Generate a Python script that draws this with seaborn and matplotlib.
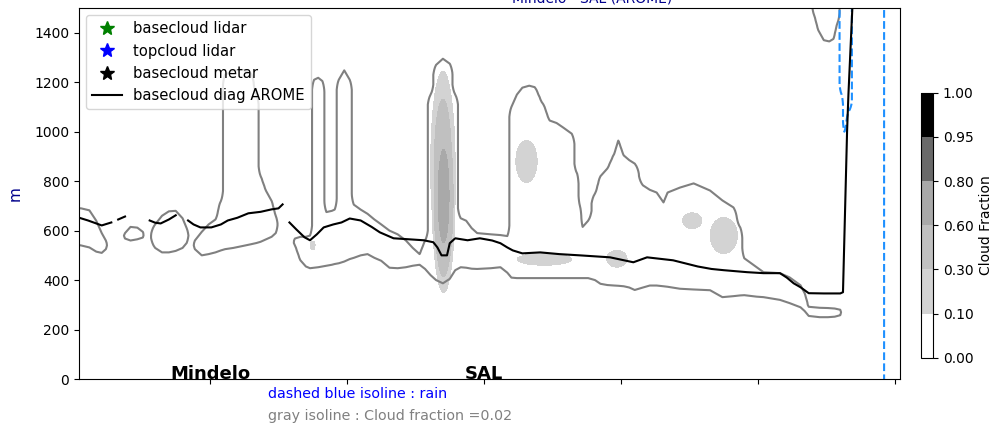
import numpy as np
import matplotlib
matplotlib.use("Agg")
import matplotlib.pyplot as plt
from matplotlib.lines import Line2D
import seaborn as sns

nan = np.nan

# cloud layer where Cloud fraction >= 0.02 : columns along the section (base / top in m)
layer_x = [0, 6, 12, 17, 21, 24, 27, 34, 38, 42, 47, 51, 54, 60, 65, 70, 75, 80, 83, 86,
           89, 94, 99, 104, 108, 111, 117, 124, 130, 134, 137, 141, 145, 148, 151, 158,
           162, 166, 170, 173, 176, 179, 182, 185, 189, 191, 194, 198, 202, 205, 210, 215,
           220, 225, 231, 237, 243, 248, 253, 257, 261, 265, 270, 275, 279, 283, 287, 291,
           295, 305, 312, 317, 320, 324, 328, 333, 337, 343, 348, 353, 358, 364, 368, 370,
           372, 376, 381, 385, 390, 395, 398, 402, 406, 410, 416, 421, 426, 431, 434, 443,
           453, 465, 474, 482, 487, 490, 499, 504, 516, 523, 531, 534, 537, 545, 551, 556,
           560, 563, 610]
layer_base = [545, 540, 532, 515, 510, 525, nan, nan, 568, 560, 565, 572, nan, 530, 512, 512,
              518, 530, 550, nan, 525, 500, 505, 512, 520, 525, 530, 538, 545, 550, 555, 565,
              575, 590, nan, nan, 540, 480, 455, 448, 450, 452, 455, 458, 462, 465, 468, 475,
              485, 490, 500, 505, 490, 478, 450, 448, 452, 458, 462, 445, 420, 400, 387, 405,
              440, 452, 450, 446, 445, 448, 452, 430, 410, 408, 408, 408, 408, 408, 408, 408,
              408, 408, 408, 408, 408, 408, 400, 385, 380, 378, 377, 375, 370, 360, 370, 378,
              378, 375, 373, 365, 362, 359, 331, 335, 338, 339, 333, 331, 320, 307, 290, 275,
              255, 250, 250, 252, 258, nan, nan]
layer_top = [692, 690, 682, 640, 590, 560, nan, nan, 590, 615, 612, 595, nan, 625, 660, 678,
             680, 650, 610, nan, 560, 595, 625, 645, 720, 1230, 1248, 1250, 1235, 1150, 820,
             760, 720, 660, nan, nan, 568, 575, 575, 580, 1210, 1218, 1205, 675, 680, 685,
             1210, 1248, 1210, 705, 685, 668, 645, 625, 600, 585, 560, 530, 505, 560, 1150,
             1270, 1295, 1275, 1150, 650, 640, 610, 590, 585, 582, 578, 1100, 1150, 1178,
             1186, 1180, 1113, 1045, 1035, 1016, 992, 830, 700, 615, 640, 750, 820, 851, 910,
             964, 904, 885, 871, 783, 765, 754, 714, 754, 774, 791, 762, 722, 694, 613, 488,
             452, 432, 428, 411, 379, 347, 292, 288, 287, 285, 280, nan, nan]

# isolated cloud reaching the top of the section (base in m)
upper_x = [538, 541, 544, 548, 552, 555, 558, 561]
upper_base = [nan, 1470, 1410, 1370, 1365, 1375, 1440, nan]

# rain columns (lowest height with rain, m)
rain_x = [558, 561, 563, 566, 571, 588, 596, 610]
rain_base = [nan, 1150, 1000, 1080, nan, nan, -100, -100]

# cloud fraction cores
core_x = [270, 270.5, 331, 344, 397, 452, 475, 175]
core_z = [860, 740, 880, 484, 486, 640, 580, 540]
core_dx = [10, 9, 11, 28, 10.5, 10, 14, 2.5]
core_dz = [430, 420, 120, 34, 48, 45, 103, 25]
core_max = [0.5, 0.75, 0.2, 0.2, 0.2, 0.2, 0.2, 0.2]

# basecloud diag AROME (nan = no cloud base)
arome_x = [4, 11, 21, 28, nan, 33, 38, nan, 56, 60, 64, 70, 75, nan,
           84, 88, 93, 101, 108, 113, 120, 128, 137, 145, 150, 153, nan,
           158, 163, 169, 173, 178, 183, 190, 196, 202, 210, 218, 224, 234, 245, 256, 263,
           266, 269, 273, 275, 279, 288, 297, 306, 312, 317, 321, 328, 341, 355, 370, 392,
           409, 419, 438, 456, 466, 475, 492, 504, 516, 521, 526, 531, 537, 548, 560, 562,
           565, 566, 569]
arome_z = [653, 641, 621, 633, nan, 645, 657, nan, 641, 632, 629, 645, 662, nan,
           641, 625, 613, 613, 625, 641, 652, 670, 676, 686, 690, 706, nan,
           633, 605, 573, 561, 585, 613, 625, 633, 649, 641, 615, 593, 569, 565, 561, 553,
           532, 500, 500, 549, 569, 561, 569, 560, 549, 532, 520, 508, 512, 505, 500, 492,
           472, 492, 480, 455, 445, 440, 432, 428, 428, 410, 387, 371, 347, 346, 346, 351,
           1004, 1154, 1520]

stations = ["Mindelo", "SAL"]
station_x = [100, 300]

levels = [0, 0.1, 0.3, 0.6, 0.8, 0.95, 1.0]
level_colors = ["white", "lightgrey", "silver", "darkgrey", "dimgrey", "black"]


def layer_field(z, base, top):
    # distance (m) to the nearest layer edge, positive inside, clipped to +-40 m
    d = np.minimum(z[:, None] - np.asarray(base, float)[None, :],
                   np.asarray(top, float)[None, :] - z[:, None])
    d = np.clip(np.nan_to_num(d, nan=-40.0), -40, 40)
    return 0.02 + d / 2000.0


fig = plt.figure(figsize=(9.96, 4.25), dpi=100)
ax = fig.add_axes([0.0793, 0.1082, 0.8243, 0.8729])
cax = fig.add_axes([0.9252, 0.1584, 0.0117, 0.6235])

# filled cloud fraction
gx = np.arange(0, 611, 1.0)
gz = np.arange(0, 1605, 5.0)
GX, GZ = np.meshgrid(gx, gz)
frac = np.zeros_like(GX)
for cx, cz, dx, dz, peak in zip(core_x, core_z, core_dx, core_dz, core_max):
    r2 = ((GX - cx) / dx) ** 2 + ((GZ - cz) / dz) ** 2
    frac = np.maximum(frac, peak * (1 - r2))
cf = ax.contourf(gx, gz, frac, levels=levels, colors=level_colors)

# gray isoline 0.02
zl = np.arange(-50, 1610, 10.0)
cloud = layer_field(zl, layer_base, layer_top)
ax.contour(layer_x, zl, cloud, levels=[0.02], colors="gray", linewidths=1.5)
upper = layer_field(zl, upper_base, [5000] * len(upper_x))
ax.contour(upper_x, zl, upper, levels=[0.02], colors="gray", linewidths=1.5)

# rain isoline (dashed blue)
rain = layer_field(zl, rain_base, [5000] * len(rain_x))
ax.contour(rain_x, zl, rain, levels=[0.02], colors="dodgerblue", linewidths=1.5,
           linestyles="--")

# AROME cloud base, one piece per gap
ax_x = np.array(arome_x, float)
ax_z = np.array(arome_z, float)
cuts = np.where(np.isnan(ax_x))[0]
for sx, sz in zip(np.split(ax_x, cuts), np.split(ax_z, cuts)):
    ok = ~np.isnan(sx)
    sns.lineplot(x=sx[ok], y=sz[ok], ax=ax, color="black", linewidth=1.5,
                 sort=False, estimator=None)

for name, xs in zip(stations, station_x):
    ax.text(xs, 0, name, ha="center", va="baseline", fontsize=13, fontweight="bold")

ax.set_xlim(4.4, 603.6)
ax.set_ylim(0, 1500)
ax.set_xticks([100, 200, 300, 400, 500, 600])
ax.set_xticklabels([""] * 6)
ax.set_ylabel("m", color="darkblue", fontsize=11, labelpad=8)

handles = [
    Line2D([], [], marker="*", color="green", ls="none", markersize=10, label="basecloud lidar"),
    Line2D([], [], marker="*", color="blue", ls="none", markersize=10, label="topcloud lidar"),
    Line2D([], [], marker="*", color="black", ls="none", markersize=10, label="basecloud metar"),
    Line2D([], [], color="black", lw=1.5, label="basecloud diag AROME"),
]
ax.legend(handles=handles, loc="upper left", fontsize=10.6)

cbar = fig.colorbar(cf, cax=cax, ticks=levels)
cbar.ax.set_yticklabels([f"{v:.2f}" for v in levels])
cbar.set_label("Cloud Fraction")

fig.text(268 / 996, 1 - 394 / 425, "dashed blue isoline : rain", color="blue",
         fontsize=10.3, va="center")
fig.text(268 / 996, 1 - 416 / 425, "gray isoline : Cloud fraction =0.02", color="gray",
         fontsize=10.3, va="center")
fig.text(672 / 996, 1 - 2 / 425, "Mindelo - SAL (AROME)", color="darkblue",
         fontsize=10, ha="right", va="baseline")

fig.savefig("out.png", dpi=100)
